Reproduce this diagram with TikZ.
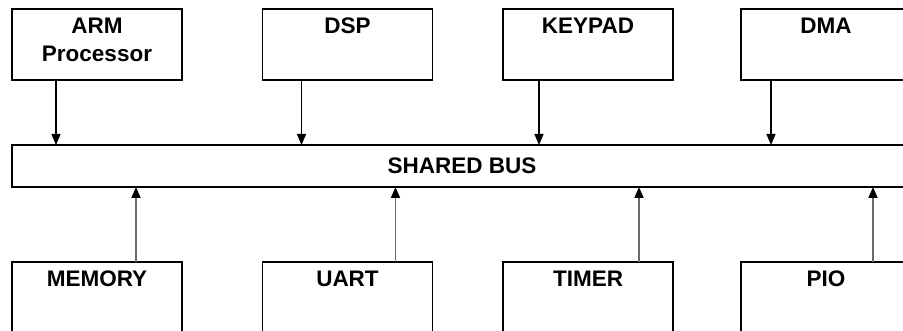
\documentclass[tikz,border=0pt]{standalone}
\usepackage{fontspec}
\setsansfont{Liberation Sans}
\usetikzlibrary{arrows.meta,positioning,calc}

\tikzset{
  unit/.style={draw,line width=1.4pt,minimum width=170pt,minimum height=71pt,
    inner sep=0pt,outer sep=0pt},
  buslabel/.style={font=\sffamily\bfseries\fontsize{22.5}{28}\selectfont},
  toplabel/.style={anchor=north,yshift=-9pt,inner sep=0pt,align=center,
    font=\sffamily\bfseries\fontsize{22.5}{28}\selectfont},
  tobus/.style={line width=1.4pt,-{Triangle[length=11pt,width=9pt]}},
  frombus/.style={line width=1.7pt,gray!85!black,
    -{Triangle[length=11pt,width=9pt,color=black]}}
}

\begin{document}
\begin{tikzpicture}[x=1pt,y=-1pt]
  \useasboundingbox (0,0) rectangle (903,331);
  \clip (0,0) rectangle (903,331);
  % Masters on top
  \node[unit,label={[toplabel]north:ARM\\Processor}] (arm) at (97,44.5) {};
  \node[unit,label={[toplabel]north:DSP}] (dsp) at (347.5,44.5) {};
  \node[unit,label={[toplabel]north:KEYPAD}] (keypad) at (588,44.5) {};
  \node[unit,label={[toplabel]north:DMA}] (dma) at (826,44.5) {};
  % Bus
  \node[draw,line width=1.4pt,minimum width=900pt,minimum height=42pt,
    inner sep=0pt,outer sep=0pt,buslabel] (bus) at (462,166) {SHARED BUS};
  % Slaves below
  \node[unit,label={[toplabel]north:MEMORY}] (memory) at (97,297.5) {};
  \node[unit,label={[toplabel]north:UART}] (uart) at (347.5,297.5) {};
  \node[unit,label={[toplabel]north:TIMER}] (timer) at (588,297.5) {};
  \node[unit,label={[toplabel]north:PIO}] (pio) at (826,297.5) {};
  % Masters drive the bus
  \draw[tobus] ([xshift=44pt]arm.south west) -- ([xshift=44pt]arm.south west |- bus.north);
  \draw[tobus] ([xshift=39pt]dsp.south west) -- ([xshift=39pt]dsp.south west |- bus.north);
  \draw[tobus] ([xshift=36pt]keypad.south west) -- ([xshift=36pt]keypad.south west |- bus.north);
  \draw[tobus] ([xshift=30pt]dma.south west) -- ([xshift=30pt]dma.south west |- bus.north);
  % Slaves hang off the bus
  \draw[frombus] ([xshift=124pt]memory.north west) -- ([xshift=124pt]memory.north west |- bus.south);
  \draw[frombus] ([xshift=133pt]uart.north west) -- ([xshift=133pt]uart.north west |- bus.south);
  \draw[frombus] ([xshift=136pt]timer.north west) -- ([xshift=136pt]timer.north west |- bus.south);
  \draw[frombus] ([xshift=132pt]pio.north west) -- ([xshift=132pt]pio.north west |- bus.south);
\end{tikzpicture}
\end{document}
